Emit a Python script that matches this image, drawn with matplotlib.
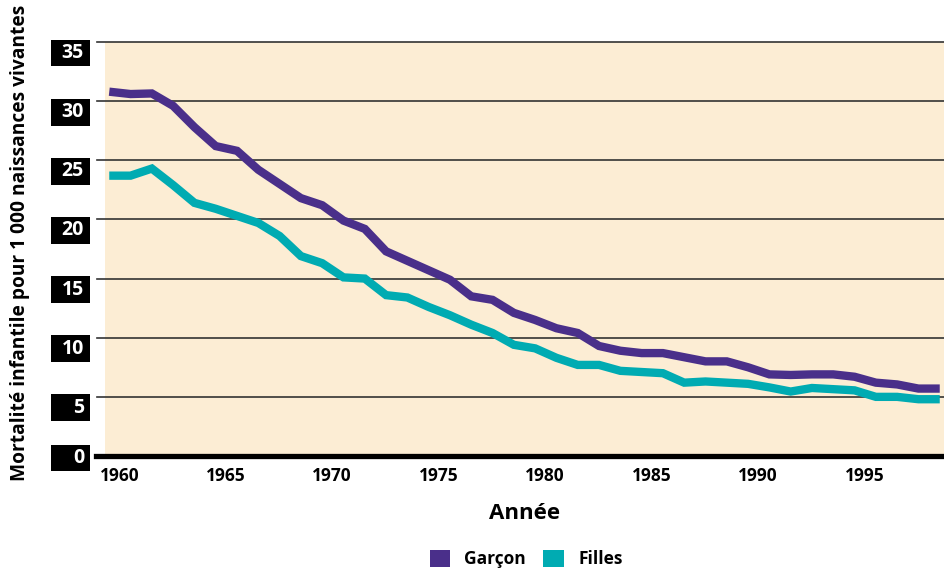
import matplotlib
matplotlib.use("Agg")
import matplotlib.pyplot as plt
import matplotlib.transforms as mtransforms
from matplotlib.patches import Patch, Rectangle

# ==== donnees ====
annees = list(range(1960, 2000))
garcon = [30.8, 30.6, 30.65, 29.6, 27.8, 26.2, 25.8, 24.2, 23.0, 21.8,
          21.2, 19.9, 19.2, 17.3, 16.5, 15.7, 14.9, 13.5, 13.2, 12.1,
          11.5, 10.8, 10.4, 9.3, 8.9, 8.7, 8.7, 8.35, 8.0, 8.0,
          7.5, 6.9, 6.85, 6.9, 6.9, 6.7, 6.2, 6.05, 5.7, 5.7]
filles = [23.7, 23.7, 24.3, 22.9, 21.4, 20.9, 20.3, 19.7, 18.6, 16.9,
          16.3, 15.1, 15.0, 13.6, 13.4, 12.6, 11.9, 11.1, 10.4, 9.4,
          9.1, 8.3, 7.7, 7.7, 7.2, 7.1, 7.0, 6.2, 6.3, 6.2,
          6.1, 5.8, 5.45, 5.75, 5.65, 5.55, 5.0, 5.0, 4.8, 4.8]
yticks = [0, 5, 10, 15, 20, 25, 30, 35]
xticks = [1960, 1965, 1970, 1975, 1980, 1985, 1990, 1995]

VIOLET = '#4a2f8a'
TURQ = '#00abb2'
BEIGE = '#fcedd4'

plt.rcParams['font.family'] = ['Open Sans', 'DejaVu Sans']

fig = plt.figure(figsize=(9.44, 5.71), dpi=100)
ax = fig.add_axes([105/944, 1 - 456/571, 839/944, 414/571])
ax.set_facecolor(BEIGE)
ax.set_xlim(1959.8, 1999.2)
ax.set_ylim(0, 35)

# lignes de grille (depassent un peu a gauche)
for v in yticks[1:]:
    ax.axhline(v, xmin=-0.009, xmax=1, color='#333333', lw=1.2, clip_on=False, zorder=1)
ax.axhline(0, xmin=-0.011, xmax=1, color='black', lw=3.8, clip_on=False, zorder=4)

ax.plot(annees, garcon, color=VIOLET, lw=6, solid_capstyle='butt', solid_joinstyle='miter', zorder=3)
ax.plot(annees, filles, color=TURQ, lw=6, solid_capstyle='butt', solid_joinstyle='miter', zorder=3)

for s in ax.spines.values():
    s.set_visible(False)

# axe x
ax.set_xticks(xticks)
ax.set_xticklabels([str(a) for a in xticks], fontsize=12.5, fontweight='bold')
ax.tick_params(axis='x', length=0, pad=8)
decal = mtransforms.ScaledTranslation(10/100, 0, fig.dpi_scale_trans)
for lab in ax.get_xticklabels():
    lab.set_transform(lab.get_transform() + decal)

# axe y : etiquettes blanches dans des cases noires
ax.set_yticks([])
trans = mtransforms.blended_transform_factory(ax.transAxes, ax.transData)
for v in yticks:
    dy = -2/100 if v == 0 else -11/100
    off = mtransforms.ScaledTranslation(0, dy, fig.dpi_scale_trans)
    ax.add_patch(Rectangle((-54/839, v - 13.5/11.83), 39/839, 27/11.83,
                           transform=trans + off, facecolor='black',
                           edgecolor='none', clip_on=False))
    ax.text(-21/839, v, str(v), transform=trans + off, color='white',
            fontsize=14, fontweight='bold', ha='right', va='center')

ax.set_xlabel('Année', fontsize=16, fontweight='bold', labelpad=13)
fig.text(20/944, 1 - 243/571, 'Mortalité infantile pour 1 000 naissances vivantes',
         rotation=90, fontsize=13.8, fontweight='bold', ha='center', va='center')

handles = [Patch(facecolor=VIOLET, label='Garçon'), Patch(facecolor=TURQ, label='Filles')]
fig.legend(handles=handles, loc='center', bbox_to_anchor=(526/944, 1 - 559/571),
           ncol=2, frameon=False, prop={'weight': 'bold', 'size': 12.5},
           handlelength=1.2, handleheight=1.2, handletextpad=0.8, columnspacing=1.0)

fig.savefig('out.png', dpi=100, facecolor='white')
